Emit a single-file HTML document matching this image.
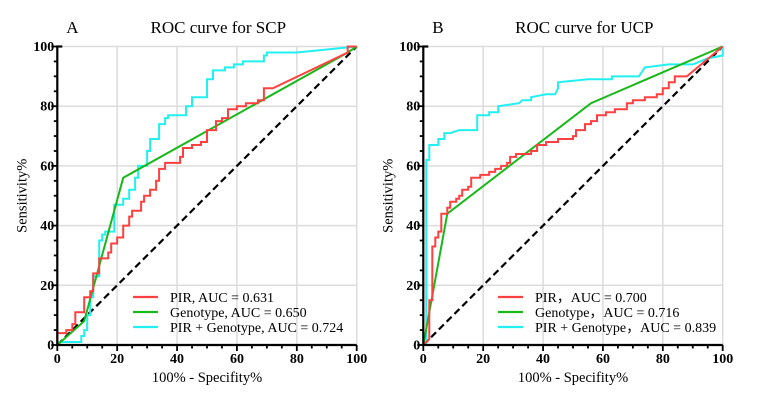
<!DOCTYPE html>
<html><head><meta charset="utf-8"><style>
body{margin:0;background:#fff;}
svg, svg text{font-family:"Liberation Serif","Times New Roman",serif !important;}
</style></head><body>
<svg id="c" width="764" height="401" viewBox="0 0 764 401" xmlns="http://www.w3.org/2000/svg" font-family="Liberation Serif, serif"></svg>
<script>
const tickVals=[0,20,40,60,80,100];
// Panel A (SCP)
const aPirX=[0,0,3,3,5,5,6,6,9,9,11,11,12,12,14,14,17,17,18,18,20,20,22,22,24,24,25,25,28,28,29,29,31,31,33,33,34,34,36,36,41,41,42,42,45,45,48,48,50,50,53,53,55,55,57,57,60,60,63,63,67,67,69,69,72,97,97,100];
const aPirY=[0,4,4,5,5,7,7,11,11,16,16,18,18,24,24,29,29,31,31,34,34,36,36,40,40,43,43,45,45,48,48,50,50,52,52,55,55,59,59,61,61,63,63,66,66,67,67,68,68,72,72,75,75,76,76,79,79,80,80,81,81,82,82,86,86,98,100,100];
const aGenX=[0,9,22,97,100];
const aGenY=[0,8,56,98,100];
const aComX=[0,0,8,8,9,9,10,10,11,11,12,12,14,14,15,15,16,16,19,19,22,22,24,24,26,26,27,27,30,30,31,31,34,34,36,36,37,37,43,43,45,45,50,50,52,52,56,56,59,59,62,62,69,69,70,70,80,100];
const aComY=[0,1,1,3,3,5,5,10,10,16,16,23,23,35,35,37,37,38,38,47,47,49,49,52,52,56,56,60,60,65,65,69,69,74,74,76,76,77,77,80,80,83,83,89,89,92,92,93,93,94,94,95,95,97,97,98,98,100];
// Panel B (UCP)
const bPirX=[0,2,2,3,3,4,4,5,5,6,6,8,8,9,9,11,11,12,12,13,13,15,15,16,16,19,19,22,22,24,24,26,26,28,28,29,29,31,31,36,36,38,38,41,41,45,45,50,50,51,51,54,54,56,56,58,58,61,61,64,64,68,68,70,70,74,74,78,78,80,80,82,82,84,84,88,100];
const bPirY=[0,2,15,15,33,33,36,36,38,38,44,44,46,46,48,48,49,49,50,50,52,52,53,53,56,56,57,57,58,58,59,59,60,60,61,61,63,63,64,64,65,65,67,67,68,68,69,69,70,70,72,72,74,74,75,75,77,77,78,78,79,79,81,81,82,82,83,83,84,84,86,86,88,88,90,90,100];
const bGenX=[0,8,56,100];
const bGenY=[0,44,81,100];
const bComX=[0,1,1,2,2,5,5,7,7,9,12,18,18,22,22,25,25,32,33,36,36,41,44,45,45,55,63,63,72,74,82,90,95,100,100];
const bComY=[0,0,62,62,67,67,69,69,71,71,72,72,77,77,78,78,80,81,82,82,83,84,84,86,88,89,89,90,90,93,94,94,96,97,100];

const NS="http://www.w3.org/2000/svg";
const svg=document.getElementById('c');
const FF='Liberation Serif, Times New Roman, serif';
function mk(tag,attrs,parent){const e=document.createElementNS(NS,tag);for(const k in attrs)e.setAttribute(k,attrs[k]);if(tag==='text')e.setAttribute('font-family',FF);(parent||svg).appendChild(e);return e;}

function panel(x0,x1,letter,title,series,legendX,legendLabels,nameP){
  const y0=345,y1=46.5;
  const sx=v=>x0+(x1-x0)*v/100, sy=v=>y0-(y0-y1)*v/100;
  const g=mk('g',{});
  
  
  tickVals.forEach(t=>{ if(t===0)return;
    const l1=mk('line',{x1:sx(t),x2:sx(t),y1:y1,y2:y0,stroke:'#dcdcdc','stroke-width':1.5},g);
    
    const l2=mk('line',{x1:x0,x2:x1,y1:sy(t),y2:sy(t),stroke:'#dcdcdc','stroke-width':1.5},g);
    
  });
  const d=mk('line',{x1:sx(0),y1:sy(0),x2:sx(100),y2:sy(100),stroke:'#000','stroke-width':2.2,'stroke-dasharray':'7,4'},g);
  
  const cols=['#ff4040','#18b818','#22f0f0'];
  const names=['pir-curve','genotype-curve','combined-curve'];
  [2,1,0].forEach(i=>{const s=series[i];
    const pts=s[0].map((v,j)=>sx(v).toFixed(1)+','+sy(s[1][j]).toFixed(1)).join(' ');
    const p=mk('polyline',{points:pts,fill:'none',stroke:cols[i],'stroke-width':2},g);
    
  });
  const ax=mk('path',{d:`M${x0},${y1-1} V${y0} H${x1}`,fill:'none',stroke:'#000','stroke-width':2.2},g);
  
  mk('line',{x1:x0-1,x2:x0+5,y1:y1,y2:y1,stroke:'#000','stroke-width':2.2},g);
  for(let t=0;t<=100;t+=5){
    const len=t%20===0?6:3.5;
    mk('line',{x1:sx(t),x2:sx(t),y1:y0,y2:y0+len,stroke:'#000','stroke-width':1.8},g);
    mk('line',{x1:x0,x2:x0-len,y1:sy(t),y2:sy(t),stroke:'#000','stroke-width':1.8},g);
  }
  tickVals.forEach(t=>{
    const a=mk('text',{x:sx(t),y:363,'text-anchor':'middle','font-size':14,'font-weight':'bold'},g);a.textContent=t;
    
    const b=mk('text',{x:x0-3,y:sy(t)+4.5,'text-anchor':'end','font-size':14,'font-weight':'bold'},g);b.textContent=t;
    
  });
  const xt=mk('text',{x:(x0+x1)/2,y:382,'text-anchor':'middle','font-size':14.5},g);xt.textContent='100% - Specifity%';
  
  const yt=mk('text',{x:0,y:0,'text-anchor':'middle','font-size':14.5,transform:`translate(${x0-31},${(y0+y1)/2}) rotate(-90)`},g);yt.textContent='Sensitivity%';
  
  const lt=mk('text',{x:x0+9,y:33,'font-size':17},g);lt.textContent=letter;
  
  const tt=mk('text',{x:x0+161,y:33,'text-anchor':'middle','font-size':17},g);tt.textContent=title;
  tt.setAttribute('xml:space','preserve');
  
  legendLabels.forEach((lab,i)=>{
    const ly=297+i*15;
    const l=mk('line',{x1:legendX,x2:legendX+25,y1:ly,y2:ly,stroke:cols[i],'stroke-width':2.2},g);
    
    const t=mk('text',{x:legendX+37,y:ly+5,'font-size':14},g);t.textContent=lab;
    t.setAttribute('xml:space','preserve');
    
  });
}
panel(57.3,356.7,'A','ROC curve for  SCP',[[aPirX,aPirY],[aGenX,aGenY],[aComX,aComY]],133,
  ['PIR,  AUC = 0.631','Genotype, AUC = 0.650','PIR + Genotype,  AUC = 0.724'],'scp');
panel(423.3,722.7,'B','ROC curve for  UCP',[[bPirX,bPirY],[bGenX,bGenY],[bComX,bComY]],498,
  ['PIR，AUC = 0.700','Genotype，AUC = 0.716','PIR + Genotype，AUC = 0.839'],'ucp');
</script>
</body></html>
